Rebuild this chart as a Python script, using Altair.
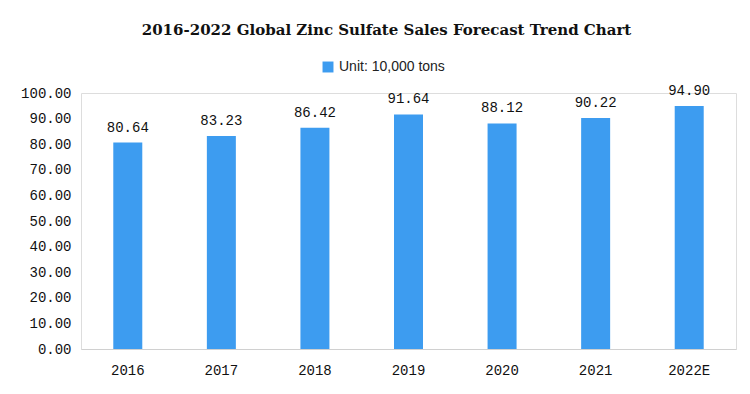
import altair as alt
import pandas as pd

years = ["2016", "2017", "2018", "2019", "2020", "2021", "2022E"]
values = [80.64, 83.23, 86.42, 91.64, 88.12, 90.22, 94.90]
series_name = "Unit: 10,000 tons"
y_ticks = [0, 10, 20, 30, 40, 50, 60, 70, 80, 90, 100]

df = pd.DataFrame({"year": years, "value": values, "series": series_name})
df["label"] = df["value"].map(lambda v: f"{v:.2f}")

NUM_FONT = "Liberation Mono"
BAR_COLOR = "#3d9cf0"

y_axis = alt.Axis(values=y_ticks, format=".2f", labelFont=NUM_FONT, labelFontSize=14,
                  labelColor="#111", ticks=False, domain=False, grid=False,
                  labelOverlap=False, labelPadding=10)
y_enc = alt.Y("value:Q", title=None, scale=alt.Scale(domain=[0, 100]), axis=y_axis)

base = alt.Chart(df).encode(
    x=alt.X("year:N", sort=years, title=None,
            scale=alt.Scale(paddingInner=0, paddingOuter=0),
            axis=alt.Axis(labelAngle=0, labelFont=NUM_FONT, labelFontSize=14,
                          labelColor="#111", ticks=False, domainColor="#d0d0d0",
                          labelPadding=14, grid=False)),
    y=y_enc,
)

bars = base.mark_bar(size=29, color=BAR_COLOR).encode(
    color=alt.Color("series:N", scale=alt.Scale(range=[BAR_COLOR]),
                    legend=alt.Legend(title=None, orient="none", legendX=240, legendY=-33,
                                      symbolType="square", symbolSize=120,
                                      symbolStrokeWidth=0,
                                      labelFont="Liberation Sans", labelFontSize=14,
                                      labelColor="#222")),
)

labels = base.mark_text(baseline="bottom", dy=-8, font=NUM_FONT, fontSize=14,
                        color="#111").encode(
    text="label:N",
)

chart = (bars + labels).properties(
    width=655, height=256,
    autosize=alt.AutoSizeParams(type="none"),
    padding={"left": 73, "top": 85, "right": 6, "bottom": 30},
    title=alt.TitleParams("2016-2022 Global Zinc Sulfate Sales Forecast Trend Chart",
                          font="DejaVu Serif", fontSize=15, fontWeight="bold",
                          color="#111", anchor="middle", dx=-22, offset=22),
).configure_view(strokeWidth=0).configure(background="white")

chart.save("out.html", embed_options={"renderer": "svg", "actions": False})
